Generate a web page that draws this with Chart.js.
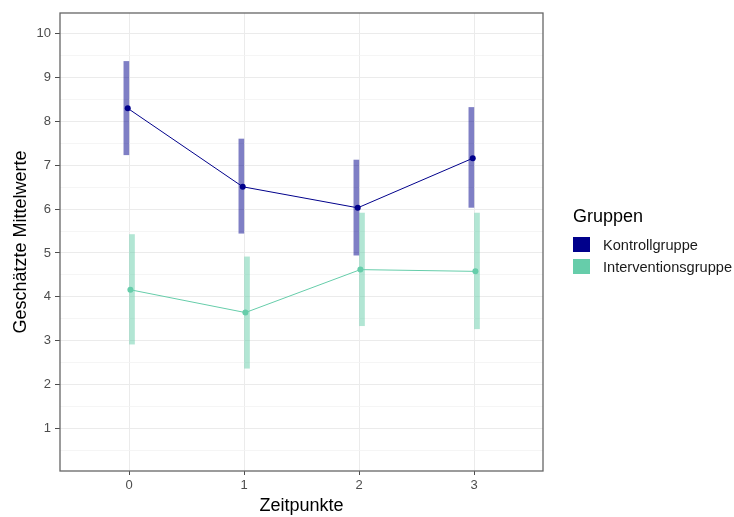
<!DOCTYPE html>
<html>
<head>
<meta charset="utf-8">
<script src="https://cdn.jsdelivr.net/npm/chart.js@4.4.0/dist/chart.umd.min.js"></script>
<style>
  body { margin: 0; background: #ffffff; }
  #wrap { position: relative; width: 734px; height: 517px; font-family: "Liberation Sans", Arial, sans-serif; }
  #legend { position: absolute; left: 573px; top: 204px; }
  #legend .title { font-size: 18px; color: #000; height: 24px; line-height: 24px; margin-bottom: 6px; }
  #legend .item { display: flex; align-items: center; height: 21.7px; font-size: 14.6px; color: #1a1a1a; }
  #legend .key { width: 17px; height: 15px; margin-right: 13px; }
</style>
</head>
<body>
<div id="wrap">
  <canvas id="chart" width="734" height="517"></canvas>
  <div id="legend"></div>
</div>
<script>
// Chart data
const groups = ['Kontrollgruppe', 'Interventionsgruppe'];
const timepoints = [0, 1, 2, 3];
const kontrollMean = [8.30, 6.51, 6.03, 7.16];
const kontrollLower = [7.24, 5.45, 4.95, 6.04];
const kontrollUpper = [9.37, 7.60, 7.12, 8.32];
const interventionMean = [4.16, 3.64, 4.62, 4.58];
const interventionLower = [2.92, 2.37, 3.34, 3.27];
const interventionUpper = [5.42, 4.91, 5.91, 5.91];
const yTickValues = [1, 2, 3, 4, 5, 6, 7, 8, 9, 10];

// Colors
const colors = {
    kontroll: { solid: '#00008B', bar: 'rgba(0, 0, 139, 0.5)' },
    intervention: { solid: '#66CDAA', bar: 'rgba(102, 205, 170, 0.5)' }
};

// small horizontal dodge between the two groups
const barDodge = [-0.023, 0.026];
const pointDodge = [-0.011, 0.012];

function barData(lower, upper, dodge) {
    return timepoints.map((t, i) => ({ x: t + dodge, y: [lower[i], upper[i]] }));
}
function lineData(mean, dodge) {
    return timepoints.map((t, i) => ({ x: t + dodge, y: mean[i] }));
}

// Panel border
const panelBorder = {
    id: 'panelBorder',
    afterDatasetsDraw(chart) {
        const a = chart.chartArea;
        const ctx = chart.ctx;
        ctx.save();
        ctx.strokeStyle = '#666666';
        ctx.lineWidth = 1.3;
        ctx.strokeRect(a.left, a.top, a.right - a.left, a.bottom - a.top);
        ctx.restore();
    }
};

const isMajor = v => Math.abs(v - Math.round(v)) < 1e-6;

const ctx = document.getElementById('chart').getContext('2d');
const chart = new Chart(ctx, {
    data: {
        datasets: [
            {
                type: 'bar',
                label: groups[0] + ' KI',
                data: barData(kontrollLower, kontrollUpper, barDodge[0]),
                backgroundColor: colors.kontroll.bar,
                borderWidth: 0,
                barThickness: 5,
                grouped: false,
                order: 2
            },
            {
                type: 'bar',
                label: groups[1] + ' KI',
                data: barData(interventionLower, interventionUpper, barDodge[1]),
                backgroundColor: colors.intervention.bar,
                borderWidth: 0,
                barThickness: 5,
                grouped: false,
                order: 2
            },
            {
                type: 'line',
                label: groups[0],
                data: lineData(kontrollMean, pointDodge[0]),
                borderColor: colors.kontroll.solid,
                backgroundColor: colors.kontroll.solid,
                borderWidth: 1,
                pointRadius: 3,
                pointBorderWidth: 0,
                tension: 0,
                order: 1
            },
            {
                type: 'line',
                label: groups[1],
                data: lineData(interventionMean, pointDodge[1]),
                borderColor: colors.intervention.solid,
                backgroundColor: colors.intervention.solid,
                borderWidth: 1,
                pointRadius: 3,
                pointBorderWidth: 0,
                tension: 0,
                order: 1
            }
        ]
    },
    options: {
        responsive: false,
        animation: false,
        devicePixelRatio: 1,
        layout: { padding: { top: 13, right: 191, left: 0, bottom: 0 } },
        plugins: {
            legend: { display: false },
            tooltip: { enabled: false }
        },
        scales: {
            x: {
                type: 'linear',
                min: -0.6,
                max: 3.6,
                offset: false,
                afterBuildTicks: scale => { scale.ticks = timepoints.map(v => ({ value: v })); },
                afterFit: scale => { scale.height = 46; },
                grid: {
                    offset: false,
                    color: '#ebebeb',
                    lineWidth: 1,
                    tickColor: '#4d4d4d',
                    tickLength: 4
                },
                border: { display: false },
                ticks: {
                    color: '#4d4d4d',
                    font: { family: 'Liberation Sans', size: 13 },
                    padding: 3,
                    maxRotation: 0,
                    callback: v => String(v)
                },
                title: {
                    display: true,
                    text: 'Zeitpunkte',
                    color: '#000000',
                    font: { family: 'Liberation Sans', size: 18 },
                    padding: { top: 0, bottom: 0 }
                }
            },
            y: {
                type: 'linear',
                min: 0.025,
                max: 10.475,
                afterBuildTicks: scale => {
                    const t = [];
                    for (let v = 0.5; v <= 10.0001; v += 0.5) t.push({ value: v });
                    scale.ticks = t;
                },
                afterFit: scale => { scale.width = 60; },
                grid: {
                    color: c => isMajor(c.tick.value) ? '#ebebeb' : '#f3f3f3',
                    lineWidth: c => isMajor(c.tick.value) ? 1 : 0.8,
                    tickColor: c => isMajor(c.tick.value) ? '#4d4d4d' : 'rgba(0,0,0,0)',
                    tickLength: 5
                },
                border: { display: false },
                ticks: {
                    color: '#4d4d4d',
                    font: { family: 'Liberation Sans', size: 13 },
                    padding: 4,
                    callback: v => yTickValues.includes(v) ? String(v) : ''
                },
                title: {
                    display: true,
                    text: 'Geschätzte Mittelwerte',
                    color: '#000000',
                    font: { family: 'Liberation Sans', size: 18 },
                    padding: { top: 10, bottom: 0 }
                }
            }
        }
    },
    plugins: [panelBorder]
});

// Legend (HTML)
const legendEl = document.getElementById('legend');
legendEl.innerHTML = '<div class="title">Gruppen</div>' +
    groups.map((g, i) => {
        const c = i === 0 ? colors.kontroll.solid : colors.intervention.solid;
        return `<div class="item"><div class="key" style="background:${c}"></div>${g}</div>`;
    }).join('');
</script>
</body>
</html>
